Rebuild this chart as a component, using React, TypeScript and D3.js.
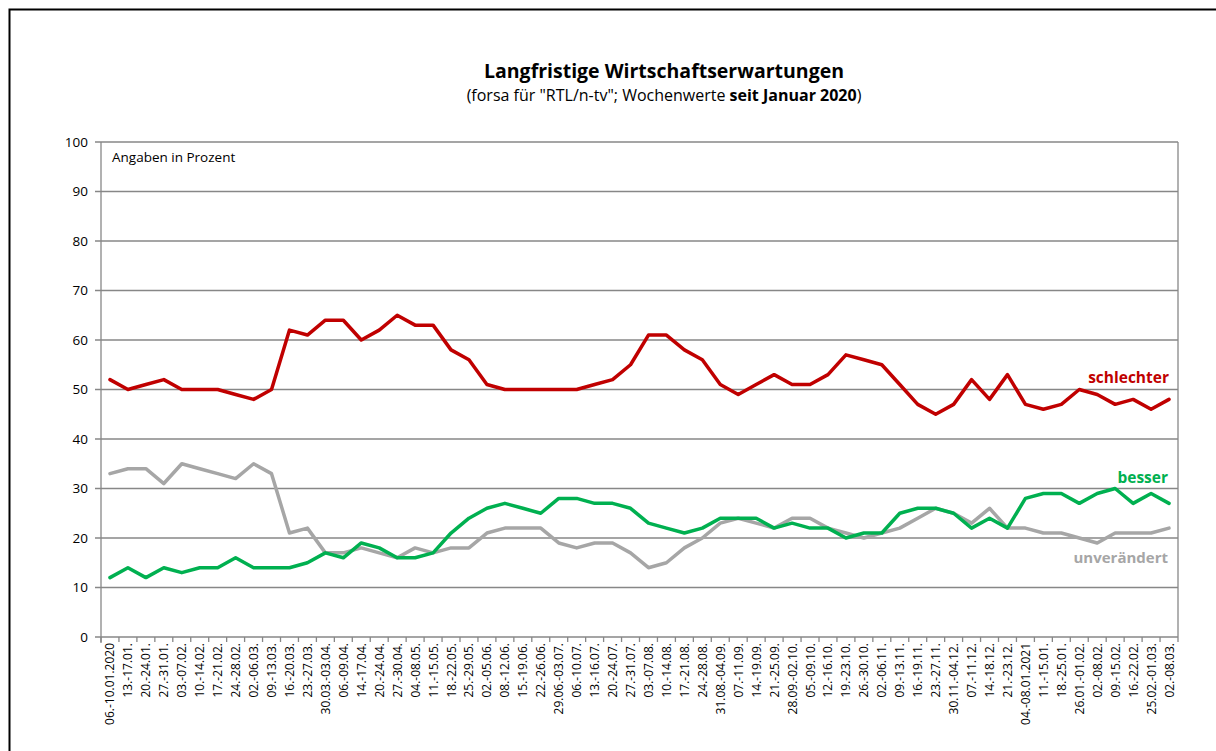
import React from "react";
import * as d3 from "d3";

const weeks: string[] = [
  "06.-10.01.2020", "13.-17.01.", "20.-24.01.", "27.-31.01.", "03.-07.02.", "10.-14.02.", "17.-21.02.", "24.-28.02.",
  "02.-06.03.", "09.-13.03.", "16.-20.03.", "23.-27.03.", "30.03.-03.04.", "06.-09.04.", "14.-17.04.", "20.-24.04.",
  "27.-30.04.", "04.-08.05.", "11.-15.05.", "18.-22.05.", "25.-29.05.", "02.-05.06.", "08.-12.06.", "15.-19.06.",
  "22.-26.06.", "29.06.-03.07.", "06.-10.07.", "13.-16.07.", "20.-24.07.", "27.-31.07.", "03.-07.08.", "10.-14.08.",
  "17.-21.08.", "24.-28.08.", "31.08.-04.09.", "07.-11.09.", "14.-19.09.", "21.-25.09.", "28.09.-02.10.", "05.-09.10.",
  "12.-16.10.", "19.-23.10.", "26.-30.10.", "02.-06.11.", "09.-13.11.", "16.-19.11.", "23.-27.11.", "30.11.-04.12.",
  "07.-11.12.", "14.-18.12.", "21.-23.12.", "04.-08.01.2021", "11.-15.01.", "18.-25.01.", "26.01.-01.02.", "02.-08.02.",
  "09.-15.02.", "16.-22.02.", "25.02.-01.03.", "02.-08.03."
];

const schlechter: number[] = [
  52, 50, 51, 52, 50, 50, 50, 49, 48, 50, 62, 61, 64, 64, 60, 62,
  65, 63, 63, 58, 56, 51, 50, 50, 50, 50, 50, 51, 52, 55, 61, 61,
  58, 56, 51, 49, 51, 53, 51, 51, 53, 57, 56, 55, 51, 47, 45, 47,
  52, 48, 53, 47, 46, 47, 50, 49, 47, 48, 46, 48
];

const besser: number[] = [
  12, 14, 12, 14, 13, 14, 14, 16, 14, 14, 14, 15, 17, 16, 19, 18,
  16, 16, 17, 21, 24, 26, 27, 26, 25, 28, 28, 27, 27, 26, 23, 22,
  21, 22, 24, 24, 24, 22, 23, 22, 22, 20, 21, 21, 25, 26, 26, 25,
  22, 24, 22, 28, 29, 29, 27, 29, 30, 27, 29, 27
];

const unveraendert: number[] = [
  33, 34, 34, 31, 35, 34, 33, 32, 35, 33, 21, 22, 17, 17, 18, 17,
  16, 18, 17, 18, 18, 21, 22, 22, 22, 19, 18, 19, 19, 17, 14, 15,
  18, 20, 23, 24, 23, 22, 24, 24, 22, 21, 20, 21, 22, 24, 26, 25,
  23, 26, 22, 22, 21, 21, 20, 19, 21, 21, 21, 22
];

const yTicks: number[] = [0, 10, 20, 30, 40, 50, 60, 70, 80, 90, 100];

const seriesNames = ["schlechter", "besser", "unverändert"];
const seriesColors = ["#C00000", "#00B050", "#A6A6A6"];

export default function App() {
  const W = 1216, H = 751;
  const left = 101, right = 1178, top = 142, bottom = 637;
  const x = d3.scaleBand<string>().domain(weeks).range([left, right]).paddingInner(0).paddingOuter(0);
  const y = d3.scaleLinear().domain([0, 100]).range([bottom, top]);
  const cx = (i: number) => (x(weeks[i]) as number) + x.bandwidth() / 2;
  const line = d3.line<number>().x((_, i) => cx(i)).y((d) => y(d));
  const allSeries = [unveraendert, besser, schlechter];
  const colorsOrdered = [seriesColors[2], seriesColors[1], seriesColors[0]];
  const font = "'Open Sans', 'Noto Sans', sans-serif";
  const tickXs = weeks.map((w) => x(w) as number).concat([right]);

  return (
    <svg width={W} height={H} style={{ position: "absolute", left: 0, top: 0, background: "#fff" }}
      fontFamily={font}>
      <rect x={0} y={0} width={W} height={H} fill="#fff" />
      {/* frame */}
      <path d={`M9.5,${H} L9.5,9.5 L${W},9.5`} fill="none" stroke="#000" strokeWidth={2} />
      {/* title */}
      <text x={664} y={78} textAnchor="middle" fontSize={19.5} fontWeight="bold" fill="#000">
        Langfristige Wirtschaftserwartungen
      </text>
      <text x={664} y={101} textAnchor="middle" fontSize={16} fill="#000">
        (forsa für "RTL/n-tv"; Wochenwerte <tspan fontWeight="bold">seit Januar 2020</tspan>)
      </text>
      {/* gridlines */}
      {yTicks.map((t) => (
        <line key={"g" + t} x1={left - 6} x2={right} y1={y(t)} y2={y(t)} stroke="#878787" strokeWidth={1.3} />
      ))}
      {/* y axis */}
      <line x1={left} x2={left} y1={top} y2={bottom + 6} stroke="#878787" strokeWidth={1.3} />
      <line x1={right} x2={right} y1={top} y2={bottom} stroke="#878787" strokeWidth={1.3} />
      {yTicks.map((t) => (
        <text key={"yt" + t} x={88} y={y(t)} dy="0.35em" textAnchor="end" fontSize={13.5} fill="#000">
          {t}
        </text>
      ))}
      {/* x ticks */}
      {tickXs.map((tx, i) => (
        <line key={"xt" + i} x1={tx} x2={tx} y1={bottom} y2={bottom + 5} stroke="#878787" strokeWidth={1.3} />
      ))}
      {weeks.map((w, i) => (
        <text key={"xl" + i} transform={`translate(${cx(i) + 4.5},${bottom + 6}) rotate(-90)`} textAnchor="end"
          fontSize={12} fill="#000">
          {w}
        </text>
      ))}
      <text x={112} y={162} fontSize={13.5} fill="#000">Angaben in Prozent</text>
      {/* lines */}
      {allSeries.map((s, k) => (
        <path key={"s" + k} d={line(s) || ""} fill="none" stroke={colorsOrdered[k]} strokeWidth={3.5}
          strokeLinejoin="round" strokeLinecap="round" />
      ))}
      {/* series labels */}
      <text x={1169} y={383} textAnchor="end" fontSize={15.5} fontWeight="bold" fill={seriesColors[0]}>{seriesNames[0]}</text>
      <text x={1168} y={483} textAnchor="end" fontSize={15.5} fontWeight="bold" fill={seriesColors[1]}>{seriesNames[1]}</text>
      <text x={1168} y={563} textAnchor="end" fontSize={15} fontWeight="bold" fill={seriesColors[2]}>{seriesNames[2]}</text>
    </svg>
  );
}
